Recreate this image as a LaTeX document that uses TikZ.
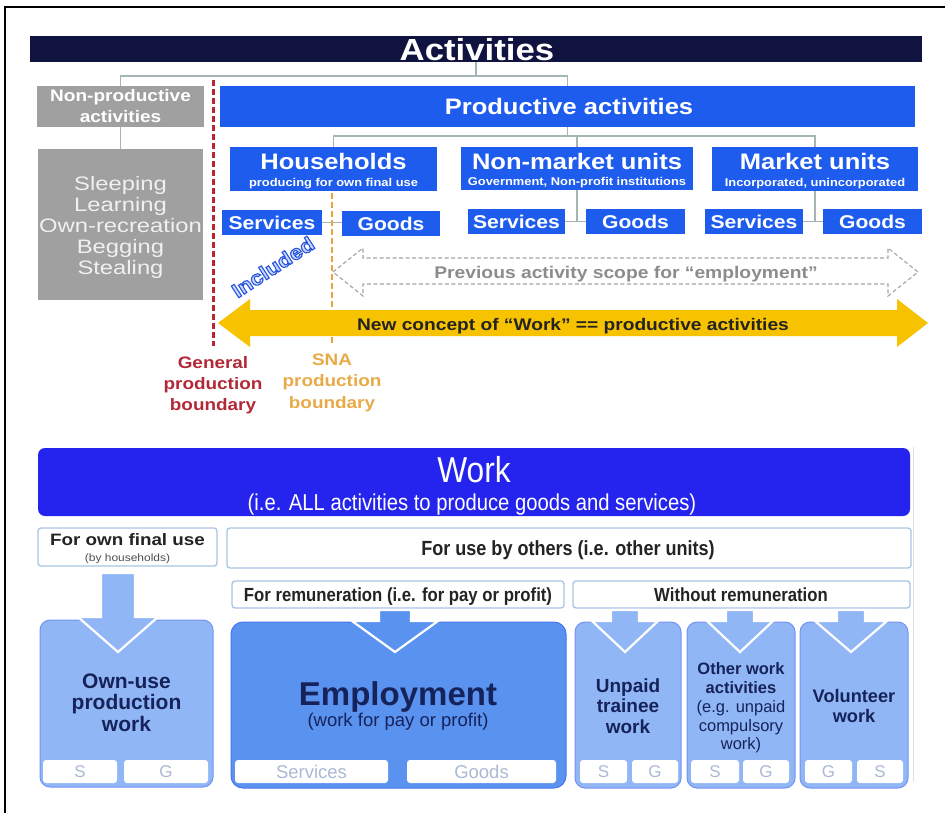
\documentclass[tikz,border=0pt]{standalone}
\usepackage{fontspec}
\setmainfont{Liberation Sans}
\newfontfamily\fwide{Liberation Sans}[FakeStretch=1.14]
\newfontfamily\fwider{Liberation Sans}[FakeStretch=1.22]
\newfontfamily\fnar{Liberation Sans}[FakeStretch=0.88]
\newcommand{\fsz}[2]{\fontsize{#1}{#2}\selectfont}
\definecolor{navy}{RGB}{16,18,64}
\definecolor{pblue}{RGB}{30,92,238}
\definecolor{wblue}{RGB}{36,36,238}
\definecolor{lblue}{RGB}{145,182,245}
\definecolor{mblue}{RGB}{90,146,240}
\definecolor{gbox}{RGB}{160,160,160}
\definecolor{conncol}{RGB}{165,180,180}
\definecolor{redb}{RGB}{185,35,50}
\definecolor{orab}{RGB}{232,165,60}
\definecolor{yel}{RGB}{247,194,0}
\definecolor{lbord}{RGB}{170,195,228}
\definecolor{celltxt}{RGB}{170,185,212}
\definecolor{titnavy}{RGB}{22,35,90}
\definecolor{dtxt}{RGB}{35,35,35}
\definecolor{txtgray}{RGB}{140,140,140}
\definecolor{redt}{RGB}{178,40,55}
\definecolor{orat}{RGB}{232,170,70}
\definecolor{inclfill}{RGB}{200,218,255}
\newcommand{\outlinetext}[1]{\special{pdf:code 2 Tr 1.1 w 0.16 0.32 0.86 RG}#1\special{pdf:code 0 Tr}}
\newcommand{\dnarrow}[7]{%
  \draw[fill=#7, draw=white, line width=2.2pt, line join=miter]
    (#1-#2,#3) -- (#1+#2,#3) -- (#1+#2,#4) -- (#1+#5,#4) -- (#1,#6)
    -- (#1-#5,#4) -- (#1-#2,#4) -- cycle;}
\begin{document}
\begin{tikzpicture}[x=1pt,y=-1pt,
  box/.style={inner sep=0pt, outer sep=0pt},
  pb/.style={box, fill=pblue},
  gb/.style={box, fill=gbox},
  lab/.style={box, fill=white, draw=lbord, line width=1.3pt, rounded corners=3pt},
  bb/.style={box, fill=lblue, draw=lblue!80!blue, line width=1pt, rounded corners=10pt},
  cell/.style={box, fill=white, rounded corners=3pt, text=celltxt, font=\fsz{17}{17}, minimum height=23pt},
  tx/.style={inner sep=0pt, anchor=base},
  sg/.style={pb, minimum height=25pt, text=white, font=\fwide\bfseries\fsz{18.5}{19}},
  conn/.style={draw=conncol, line width=1.8pt},
  uhead/.style={tx, text=white, font=\fwide\bfseries\fsz{22.4}{23}},
  usub/.style={tx, text=white, font=\fwide\bfseries\fsz{11.3}{12}},
  btit/.style={tx, text=titnavy, font=\bfseries\fsz{#1}{#1}},
  breg/.style={tx, text=titnavy, font=\fsz{#1}{#1}}
]
\useasboundingbox (0,0) rectangle (945,813);
% frame
\coordinate (fTL) at (4.5,7); \coordinate (fTR) at (945,7); \coordinate (fBL) at (4.5,813);
\draw[line width=2pt] (fTR) -- (fTL) -- (fBL);

% Activities
\node[box, fill=navy, minimum width=892pt, minimum height=26pt] (act) at (476,49.5) {};
\node[tx, text=white, font=\fwide\bfseries\fsz{30.5}{31}] (actt) at (477,61) {Activities};

% non-productive
\node[gb, minimum width=167pt, minimum height=41pt] (np) at (120.5,106.5) {};
\node[tx, text=white, font=\fwide\bfseries\fsz{16.7}{17}] (npt1) at (120.5,102) {Non-productive};
\node[tx, text=white, font=\fwide\bfseries\fsz{16.7}{17}] (npt2) at (120.5,123) {activities};
\node[gb, minimum width=165pt, minimum height=151pt] (lst) at (120.5,224.5) {};
\foreach \t/\y [count=\i] in {Sleeping/191,Learning/212,Own-recreation/233,Begging/253,Stealing/274}
  \node[tx, text=black!6, font=\fwider\fsz{19.5}{20}] (lst\i) at (120.5,\y) {\t};

% productive
\node[pb, minimum width=695pt, minimum height=41pt] (prod) at (567.5,106.5) {};
\node[uhead] (prodt) at (569,115) {Productive activities};

\node[pb, minimum width=207pt, minimum height=44pt] (hh) at (333.5,169) {};
\node[uhead] (hht) at (333.5,170) {Households};
\node[usub] (hhs) at (333.5,186.5) {producing for own final use};
\node[pb, minimum width=232pt, minimum height=43pt] (nm) at (577,168.5) {};
\node[uhead] (nmt) at (577,170) {Non-market units};
\node[usub] (nms) at (577,185.5) {Government, Non-profit institutions};
\node[pb, minimum width=206pt, minimum height=44pt] (mk) at (815,169) {};
\node[uhead] (mkt) at (815,170) {Market units};
\node[usub] (mks) at (815,186.5) {Incorporated, unincorporated};

\node[sg, minimum width=100pt] (hhS) at (272,222.5) {Services};
\node[sg, minimum width=98pt] (hhG) at (391,223.5) {Goods};
\node[sg, minimum width=97pt] (nmS) at (516.5,221.5) {Services};
\node[sg, minimum width=99pt] (nmG) at (635.5,221.5) {Goods};
\node[sg, minimum width=98pt] (mkS) at (754,221.5) {Services};
\node[sg, minimum width=99pt] (mkG) at (872.5,221.5) {Goods};

% connectors
\coordinate (j1) at (476,76);
\draw[conn] (act.south) -- (j1);
\draw[conn] (np.north) |- (j1) -| (prod.north);
\draw[conn] (np.south) -- (lst.north);
\coordinate (j2) at (567.5,136);
\draw[conn] (prod.south) -- (j2);
\draw[conn] (hh.north) |- (j2) -| (mk.north);
\draw[conn] (nm.north) -- (nm.north |- j2);
\draw[conn] (nm.south) -- (nm.south |- nmS.east);
\draw[conn] (nmS.east) -- (nmG.west);
\draw[conn] (mk.south) -- (mk.south |- mkS.east);
\draw[conn] (mkS.east) -- (mkG.west);
\draw[conn] (hhS.east) -- (hhS.east -| hhG.west);

% boundaries
\coordinate (rb1) at (213,80); \coordinate (rb2) at (213,346);
\draw[redb, line width=3pt, dash pattern=on 6pt off 3pt] (rb1) -- (rb2);
\coordinate (ob1) at (332,193); \coordinate (ob2) at (332,346);
\draw[orab, line width=2.5pt, dash pattern=on 6pt off 3pt] (ob1) -- (ob2);

% previous scope arrow
\draw[draw=txtgray!80, fill=white, line width=1.1pt, dash pattern=on 4pt off 2.5pt]
  (333,272) -- (363,248) -- (363,258) -- (888,258) -- (888,248) -- (918,272)
  -- (888,296) -- (888,284) -- (363,284) -- (363,296) -- cycle;
\node[tx, text=txtgray, font=\fwide\bfseries\fsz{16.9}{17}] (prev) at (626,278) {Previous activity scope for “employment”};

% new concept arrow
\fill[yel] (218,323) -- (250,299) -- (250,310) -- (897,310) -- (897,299) -- (928,323)
  -- (897,347) -- (897,336) -- (250,336) -- (250,347) -- cycle;
\node[tx, text=dtxt, font=\fwide\bfseries\fsz{16.8}{17}] (newc) at (573,330) {New concept of “Work” == productive activities};

% Included (outlined text)
\node[inner sep=0pt, rotate=33, text=inclfill, font=\fwide\bfseries\fsz{20}{20}] (inc) at (273,267) {\outlinetext{Included}};

% boundary labels
\node[tx, text=redt, font=\fwide\bfseries\fsz{16.6}{17}] (gl1) at (213,368) {General};
\node[tx, text=redt, font=\fwide\bfseries\fsz{16.6}{17}] (gl2) at (213,389) {production};
\node[tx, text=redt, font=\fwide\bfseries\fsz{16.6}{17}] (gl3) at (213,410) {boundary};
\node[tx, text=orat, font=\fwide\bfseries\fsz{16.6}{17}] (sl1) at (332,365) {SNA};
\node[tx, text=orat, font=\fwide\bfseries\fsz{16.6}{17}] (sl2) at (332,386) {production};
\node[tx, text=orat, font=\fwide\bfseries\fsz{16.6}{17}] (sl3) at (332,408) {boundary};

% ---------- Work section
\coordinate (fr1) at (913,447); \coordinate (fr2) at (913,782);
\draw[black!12, line width=1pt] (fr1) -- (fr2);
\node[box, fill=wblue, rounded corners=7pt, minimum width=872pt, minimum height=68pt] (work) at (474,482) {};
\node[tx, text=white, font=\fnar\fsz{36}{36}] (workt) at (474,482) {Work};
\node[tx, text=white, font=\fnar\fsz{23}{23}] (works) at (472,510) {(i.e. ALL activities to produce goods and services)};

\node[lab, minimum width=179pt, minimum height=38pt] (own) at (127.5,547) {};
\node[tx, text=dtxt, font=\fwide\bfseries\fsz{16.5}{17}] (ownt) at (127.5,545) {For own final use};
\node[tx, text=dtxt!80, font=\fwide\fsz{10.5}{11}] (owns) at (127.5,561) {(by households)};
\node[lab, minimum width=684pt, minimum height=40pt] (oth) at (569,548) {};
\node[tx, text=dtxt, font=\fnar\bfseries\fsz{20.5}{21}] (otht) at (568,555) {For use by others (i.e. other units)};
\node[lab, minimum width=332pt, minimum height=27pt] (rem) at (398,594.5) {};
\node[tx, text=dtxt, font=\fnar\bfseries\fsz{19}{19}] (remt) at (398,601) {For remuneration (i.e. for pay or profit)};
\node[lab, minimum width=337pt, minimum height=27pt] (wrem) at (741.5,594.5) {};
\node[tx, text=dtxt, font=\fnar\bfseries\fsz{19}{19}] (wremt) at (741,601) {Without remuneration};

% bottom boxes
\node[bb, minimum width=173pt, minimum height=167pt] (ou) at (126.5,703.5) {};
\node[bb, fill=mblue, draw=mblue!80!blue, rounded corners=12pt, minimum width=335pt, minimum height=166pt] (emp) at (398.5,705) {};
\node[bb, minimum width=106pt, minimum height=166pt] (unp) at (628,705) {};
\node[bb, minimum width=108pt, minimum height=166pt] (owa) at (741,705) {};
\node[bb, minimum width=108pt, minimum height=166pt] (vol) at (854,705) {};

% arrows
\dnarrow{118}{17}{573}{617}{40}{652}{lblue}
\dnarrow{395}{16}{610}{621}{43}{652}{mblue}
\dnarrow{625}{14}{610}{621}{33}{652}{lblue}
\dnarrow{740}{14}{610}{621}{33}{652}{lblue}
\dnarrow{851}{14}{610}{621}{36}{652}{lblue}

% box texts
\node[btit=21] (ou1) at (126.5,688) {Own-use};
\node[btit=21] (ou2) at (126.5,709.5) {production};
\node[btit=21] (ou3) at (126.5,731) {work};
\node[btit=33] (emp1) at (398,705) {Employment};
\node[breg=18.5] (emp2) at (398,726) {(work for pay or profit)};
\node[btit=19] (un1) at (628,692) {Unpaid};
\node[btit=19] (un2) at (628,712) {trainee};
\node[btit=19] (un3) at (628,733) {work};
\node[btit=16.5] (ow1) at (741,674) {Other work};
\node[btit=16.5] (ow2) at (741,693) {activities};
\node[breg=16.5] (ow3) at (741,712) {(e.g. unpaid};
\node[breg=16.5] (ow4) at (741,731) {compulsory};
\node[breg=16.5] (ow5) at (741,749) {work)};
\node[btit=18.2] (vo1) at (854,702) {Volunteer};
\node[btit=18.2] (vo2) at (854,722) {work};

% cells
\node[cell, minimum width=74pt] (c1) at (80,771.5) {S};
\node[cell, minimum width=84pt] (c2) at (166,771.5) {G};
\node[cell, minimum width=153pt, font=\fsz{18.5}{19}] (c3) at (311.5,771.5) {Services};
\node[cell, minimum width=149pt, font=\fsz{18.5}{19}] (c4) at (481.5,771.5) {Goods};
\node[cell, minimum width=47pt] (c5) at (603.5,771.5) {S};
\node[cell, minimum width=46pt] (c6) at (655,771.5) {G};
\node[cell, minimum width=48pt] (c7) at (715,771.5) {S};
\node[cell, minimum width=46pt] (c8) at (766,771.5) {G};
\node[cell, minimum width=47pt] (c9) at (828.5,771.5) {G};
\node[cell, minimum width=46pt] (c10) at (880,771.5) {S};
\end{tikzpicture}
\end{document}
